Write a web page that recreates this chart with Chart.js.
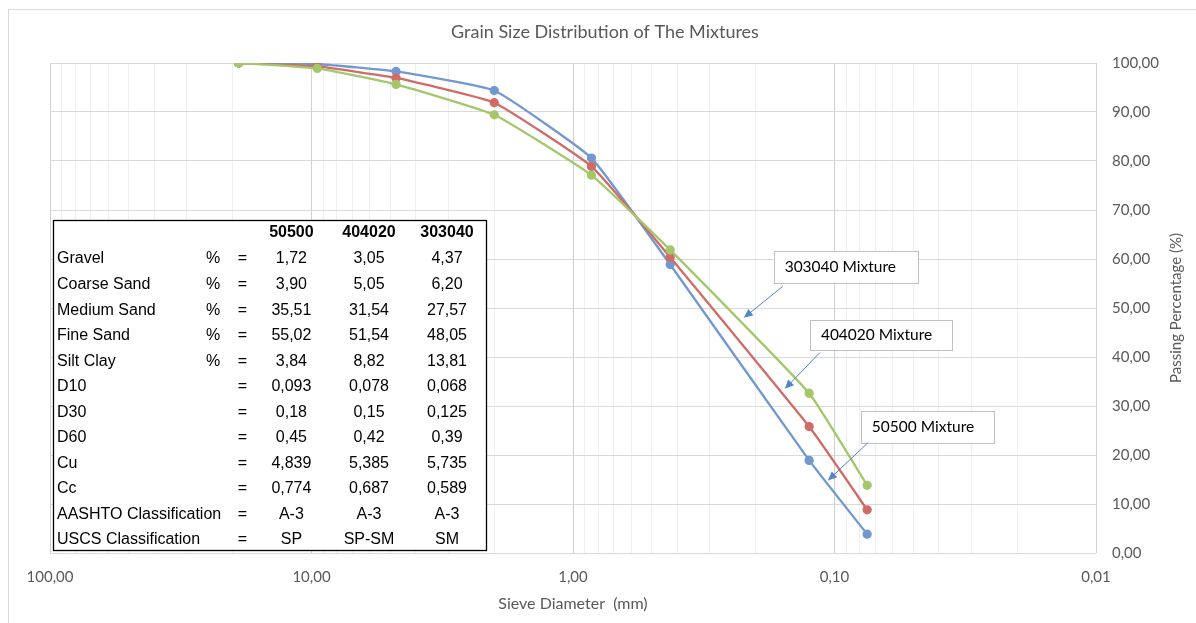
<!DOCTYPE html>
<html>
<head>
<meta charset="utf-8">
<script src="https://cdn.jsdelivr.net/npm/chart.js@4.4.1/dist/chart.umd.min.js"></script>
<style>
  html, body { margin: 0; padding: 0; background: #fff; }
  #wrap { width: 1196px; height: 623px; }
</style>
</head>
<body>
<div id="wrap"><canvas id="grain"></canvas></div>
<script>
// sieve openings (mm) and passing percentages
var sieveSizes = [19, 9.5, 4.75, 2.0, 0.85, 0.425, 0.125, 0.075];
var mix50500  = [100, 99.8, 98.28, 94.38, 80.6, 58.87, 18.9, 3.84];
var mix404020 = [100, 99.3, 96.95, 91.9, 78.9, 60.36, 25.8, 8.82];
var mix303040 = [100, 98.9, 95.63, 89.43, 77.1, 61.86, 32.6, 13.81];

var xMajorTicks = [100, 10, 1, 0.1, 0.01];
var xTickLabels = ['100,00', '10,00', '1,00', '0,10', '0,01'];

// summary table
var tableHeads = ['50500', '404020', '303040'];
var rowLabels = ['Gravel', 'Coarse Sand', 'Medium Sand', 'Fine Sand', 'Silt Clay', 'D10', 'D30', 'D60', 'Cu', 'Cc', 'AASHTO Classification', 'USCS Classification'];
var rowUnits  = ['%', '%', '%', '%', '%', '', '', '', '', '', '', ''];
var col50500  = ['1,72', '3,90', '35,51', '55,02', '3,84', '0,093', '0,18', '0,45', '4,839', '0,774', 'A-3', 'SP'];
var col404020 = ['3,05', '5,05', '31,54', '51,54', '8,82', '0,078', '0,15', '0,42', '5,385', '0,687', 'A-3', 'SP-SM'];
var col303040 = ['4,37', '6,20', '27,57', '48,05', '13,81', '0,068', '0,125', '0,39', '5,735', '0,589', 'A-3', 'SM'];

// callouts: box corners and arrow in data units (mm, %)
var calloutText = ['303040 Mixture', '404020 Mixture', '50500 Mixture'];
var calloutBox  = [[0.1709, 61.7, 0.0480, 55.2], [0.1242, 47.6, 0.0355, 41.5], [0.0793, 28.9, 0.0245, 22.45]];
var calloutTail = [[0.1578, 54.4], [0.1137, 40.9], [0.0745, 22.5]];
var calloutTip  = [[0.2222, 48.0], [0.1548, 33.5], [0.106, 14.8]];

var FONT = 'Lato, "Open Sans", sans-serif';

function pts(vals) {
  var out = [];
  for (var i in sieveSizes) out.push({x: sieveSizes[i], y: vals[i]});
  return out;
}

function series(label, vals, color, order) {
  return {
    label: label,
    data: pts(vals),
    showLine: true,
    order: order,
    borderColor: color,
    backgroundColor: color,
    borderWidth: 2.3,
    pointRadius: 3.5,
    pointHoverRadius: 3.5,
    tension: 0.12
  };
}

var extras = {
  id: 'extras',
  beforeDraw: function(chart) {
    var c = chart.ctx;
    c.save();
    c.fillStyle = '#fff';
    c.fillRect(0, 0, chart.width, chart.height);
    c.strokeStyle = '#D9D9D9';
    c.lineWidth = 1;
    c.strokeRect(8.5, 9.5, chart.width + 20, chart.height + 20);
    c.fillStyle = '#595959';
    c.font = '18px ' + FONT;
    c.textAlign = 'center';
    c.textBaseline = 'middle';
    c.fillText('Grain Size Distribution of The Mixtures', 605, 32);
    c.restore();
  },
  afterDraw: function(chart) {
    var c = chart.ctx;
    var xs = chart.scales.x, ys = chart.scales.y;
    var area = chart.chartArea;
    c.save();

    // y axis title, reads bottom to top
    c.translate(1176, (area.top + area.bottom) / 2);
    c.rotate(-Math.PI / 2);
    c.fillStyle = '#595959';
    c.font = '15px ' + FONT;
    c.textAlign = 'center';
    c.textBaseline = 'middle';
    c.fillText('Passing Percentage (%)', 0, 0);
    c.setTransform(1, 0, 0, 1, 0, 0);

    // table
    var tl = area.left + 3, tt = area.top + 157;
    var tw = 433, th = area.bottom - 3 - tt;
    c.fillStyle = '#fff';
    c.fillRect(tl, tt, tw, th);
    c.strokeStyle = '#000';
    c.lineWidth = 1.3;
    c.strokeRect(Math.round(tl) + 0.5, Math.round(tt) + 0.5, tw, th);
    var colX = [238.4, 316, 394];
    var cols = [col50500, col404020, col303040];
    c.fillStyle = '#000';
    c.textBaseline = 'middle';
    c.font = 'bold 16px "Liberation Sans", Arial, sans-serif';
    c.textAlign = 'center';
    for (var k = 0; k < 3; k++) c.fillText(tableHeads[k], tl + colX[k], tt + 13);
    c.font = '16px "Liberation Sans", Arial, sans-serif';
    for (var r = 0; r < rowLabels.length; r++) {
      var yy = tt + 39 + r * 25.55;
      c.textAlign = 'left';
      c.fillText(rowLabels[r], tl + 4, yy);
      c.textAlign = 'center';
      if (rowUnits[r]) c.fillText(rowUnits[r], tl + 160, yy);
      c.fillText('=', tl + 189.4, yy);
      for (var k2 = 0; k2 < 3; k2++) c.fillText(cols[k2][r], tl + colX[k2], yy);
    }

    // callouts
    for (var i = 0; i < calloutText.length; i++) {
      var b = calloutBox[i];
      var x1 = xs.getPixelForValue(b[0]), y1 = ys.getPixelForValue(b[1]);
      var x2 = xs.getPixelForValue(b[2]), y2 = ys.getPixelForValue(b[3]);
      var ax = xs.getPixelForValue(calloutTail[i][0]), ay = ys.getPixelForValue(calloutTail[i][1]);
      var bx = xs.getPixelForValue(calloutTip[i][0]), by = ys.getPixelForValue(calloutTip[i][1]);
      c.fillStyle = '#fff';
      c.fillRect(x1, y1, x2 - x1, y2 - y1);
      c.strokeStyle = '#BFBFBF';
      c.lineWidth = 1;
      c.strokeRect(Math.round(x1) + 0.5, Math.round(y1) + 0.5, Math.round(x2 - x1), Math.round(y2 - y1));
      c.fillStyle = '#000';
      c.font = '15.5px ' + FONT;
      c.textAlign = 'left';
      c.textBaseline = 'middle';
      c.fillText(calloutText[i], x1 + 11, (y1 + y2) / 2);

      // arrow
      var ang = Math.atan2(by - ay, bx - ax);
      c.strokeStyle = '#4F86C6';
      c.fillStyle = '#4F86C6';
      c.lineWidth = 1;
      c.beginPath();
      c.moveTo(ax, ay);
      c.lineTo(bx - 6 * Math.cos(ang), by - 6 * Math.sin(ang));
      c.stroke();
      c.beginPath();
      c.moveTo(bx, by);
      c.lineTo(bx - 9 * Math.cos(ang) + 4 * Math.sin(ang), by - 9 * Math.sin(ang) - 4 * Math.cos(ang));
      c.lineTo(bx - 9 * Math.cos(ang) - 4 * Math.sin(ang), by - 9 * Math.sin(ang) + 4 * Math.cos(ang));
      c.closePath();
      c.fill();
    }
    c.restore();
  }
};

var ctx = document.getElementById('grain');
var grainChart = new Chart(ctx, {
  type: 'scatter',
  data: {
    datasets: [
      series('50500', mix50500, '#7199D0', 3),
      series('404020', mix404020, '#D06B66', 2),
      series('303040', mix303040, '#A4C76A', 1)
    ]
  },
  options: {
    responsive: true,
    maintainAspectRatio: false,
    animation: false,
    layout: { padding: { left: 50, top: 63, right: 0, bottom: 0 } },
    plugins: {
      legend: { display: false },
      tooltip: { enabled: false },
      title: { display: false }
    },
    scales: {
      x: {
        type: 'logarithmic',
        reverse: true,
        min: 0.01,
        max: 100,
        afterFit: function(s) { s.height = 70; },
        afterBuildTicks: function(s) {
          var t = [];
          for (var e = -2; e <= 2; e++) {
            for (var m = 1; m <= 9; m++) {
              var v = m * Math.pow(10, e);
              if (v > 100.0001) break;
              t.push({ value: parseFloat(v.toPrecision(6)) });
            }
          }
          s.ticks = t;
        },
        grid: {
          drawTicks: false,
          color: function(c) {
            if (!c.tick) return '#EFEFEF';
            return xMajorTicks.indexOf(c.tick.value) >= 0 ? '#D0D0D0' : '#EFEFEF';
          }
        },
        border: { display: false },
        ticks: {
          autoSkip: false,
          maxRotation: 0,
          padding: 15,
          color: '#595959',
          font: { family: FONT, size: 15 },
          callback: function(v) {
            var i = xMajorTicks.indexOf(v);
            return i >= 0 ? xTickLabels[i] : '';
          }
        },
        title: {
          display: true,
          text: 'Sieve Diameter  (mm)',
          color: '#595959',
          font: { family: FONT, size: 16 },
          padding: { top: 0, bottom: 10 }
        }
      },
      y: {
        position: 'right',
        min: 0,
        max: 100,
        afterFit: function(s) { s.width = 100; },
        grid: { drawTicks: false, color: '#D9D9D9' },
        border: { display: false },
        ticks: {
          stepSize: 10,
          padding: 16,
          color: '#595959',
          font: { family: FONT, size: 15 },
          callback: function(v) { return v.toFixed(2).replace('.', ','); }
        }
      }
    }
  },
  plugins: [extras]
});
</script>
</body>
</html>
